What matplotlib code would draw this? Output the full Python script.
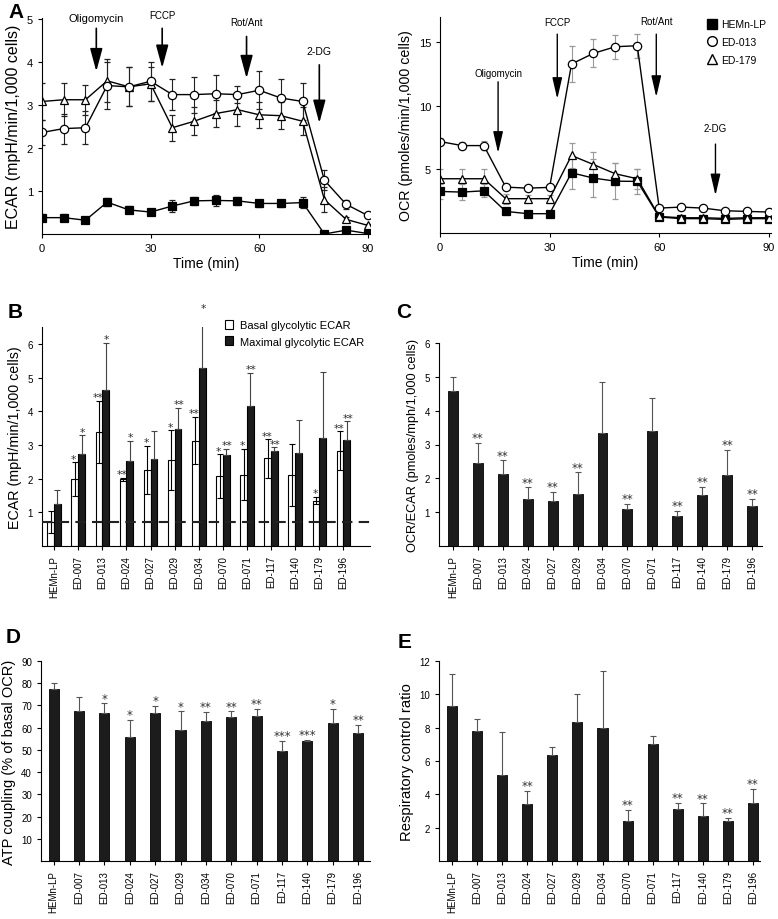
import matplotlib
matplotlib.use('Agg')
import matplotlib.pyplot as plt
import numpy as np

plt.rcParams['font.family'] = ['Liberation Sans', 'DejaVu Sans']

# ---------------- data ----------------
time = [0, 6, 12, 18, 24, 30, 36, 42, 48, 54, 60, 66, 72, 78, 84, 90]

ecar_hemn = [0.38, 0.38, 0.32, 0.74, 0.56, 0.51, 0.65, 0.77, 0.78, 0.77, 0.71, 0.71, 0.73, 0.00, 0.09, 0.01]
ecar_hemn_err = [0.08, 0.08, 0.05, 0.10, 0.08, 0.05, 0.13, 0.10, 0.12, 0.10, 0.08, 0.08, 0.12, 0.08, 0.05, 0.03]
ecar_013 = [2.36, 2.45, 2.47, 3.45, 3.42, 3.55, 3.24, 3.24, 3.26, 3.24, 3.34, 3.16, 3.08, 1.25, 0.69, 0.43]
ecar_013_err = [0.30, 0.35, 0.38, 0.55, 0.45, 0.45, 0.36, 0.42, 0.44, 0.20, 0.44, 0.44, 0.44, 0.23, 0.10, 0.05]
ecar_179 = [3.08, 3.12, 3.12, 3.56, 3.42, 3.49, 2.47, 2.62, 2.80, 2.89, 2.77, 2.75, 2.62, 0.80, 0.34, 0.20]
ecar_179_err = [0.42, 0.38, 0.35, 0.50, 0.45, 0.40, 0.30, 0.33, 0.31, 0.37, 0.30, 0.31, 0.33, 0.30, 0.05, 0.04]

ocr_hemn = [3.27, 3.22, 3.32, 1.70, 1.52, 1.52, 4.74, 4.32, 4.08, 4.06, 1.26, 1.13, 1.13, 1.07, 1.13, 1.13]
ocr_hemn_err = [0.60, 0.60, 0.50, 0.30, 0.10, 0.10, 1.30, 1.50, 1.40, 1.00, 0.20, 0.15, 0.15, 0.15, 0.15, 0.15]
ocr_013 = [7.20, 6.88, 6.88, 3.61, 3.53, 3.59, 13.30, 14.14, 14.66, 14.74, 1.96, 2.04, 1.96, 1.75, 1.70, 1.65]
ocr_013_err = [0.30, 0.30, 0.35, 0.20, 0.15, 0.15, 1.40, 1.10, 0.95, 0.95, 0.20, 0.20, 0.20, 0.15, 0.15, 0.15]
ocr_179 = [4.27, 4.27, 4.27, 2.70, 2.70, 2.70, 6.10, 5.39, 4.66, 4.27, 1.30, 1.20, 1.20, 1.15, 1.20, 1.20]
ocr_179_err = [0.80, 0.80, 0.80, 0.40, 0.30, 0.30, 1.00, 0.97, 0.85, 0.80, 0.20, 0.15, 0.15, 0.15, 0.15, 0.15]

lines = ['HEMn-LP', 'ED-007', 'ED-013', 'ED-024', 'ED-027', 'ED-029', 'ED-034',
         'ED-070', 'ED-071', 'ED-117', 'ED-140', 'ED-179', 'ED-196']

basal = [0.71, 1.98, 3.38, 1.98, 2.25, 2.55, 3.13, 2.07, 2.12, 2.60, 2.12, 1.35, 2.83]
basal_err = [0.32, 0.50, 0.92, 0.05, 0.72, 0.88, 0.70, 0.65, 0.76, 0.57, 0.92, 0.11, 0.57]
basal_stars = ['', '*', '**', '**', '*', '*', '**', '*', '*', '**', '', '*', '**']
maximal = [1.25, 2.74, 4.64, 2.52, 2.59, 3.46, 5.28, 2.70, 4.15, 2.81, 2.77, 3.20, 3.15]
maximal_err = [0.41, 0.54, 1.39, 0.61, 0.83, 0.64, 1.67, 0.18, 0.99, 0.12, 0.96, 1.95, 0.55]
maximal_stars = ['', '*', '*', '*', '', '**', '*', '**', '**', '**', '', '', '**']
baseline_ecar = 0.71

ocr_ecar = [4.57, 2.45, 2.13, 1.40, 1.33, 1.53, 3.33, 1.08, 3.40, 0.88, 1.50, 2.10, 1.19]
ocr_ecar_err = [0.43, 0.60, 0.40, 0.33, 0.27, 0.65, 1.51, 0.17, 0.97, 0.16, 0.25, 0.74, 0.21]
ocr_ecar_stars = ['', '**', '**', '**', '**', '**', '', '**', '', '**', '**', '**', '**']

atp = [77.5, 67.3, 66.7, 55.6, 66.4, 59.0, 63.2, 64.8, 65.2, 49.6, 54.0, 62.2, 57.8]
atp_err = [2.8, 6.5, 4.3, 8.0, 3.4, 8.4, 4.0, 2.5, 3.3, 4.4, 0.4, 6.2, 3.6]
atp_stars = ['', '', '*', '*', '*', '*', '**', '**', '**', '***', '***', '*', '**']

rcr = [9.28, 7.82, 5.15, 3.45, 6.35, 8.35, 7.97, 2.40, 7.00, 3.10, 2.70, 2.40, 3.50]
rcr_err = [1.92, 0.68, 2.57, 0.75, 0.50, 1.70, 3.43, 0.65, 0.50, 0.38, 0.77, 0.18, 0.83]
rcr_stars = ['', '', '', '**', '', '', '', '**', '', '**', '**', '**', '**']

# ---------------- figure ----------------
W, H = 778, 920
fig = plt.figure(figsize=(W / 100, H / 100), dpi=100)
STAR_FONT = ['DejaVu Sans']


def rect(l, t, r, b):
    return [l / W, 1 - b / H, (r - l) / W, (b - t) / H]


def style(ax, ysize=8):
    ax.spines['top'].set_visible(False)
    ax.spines['right'].set_visible(False)
    ax.tick_params(axis='both', direction='out', length=3, width=0.8, labelsize=ysize)


def panel_label(txt, x, y):
    fig.text(x / W, 1 - y / H, txt, fontsize=15, fontweight='bold', ha='left', va='top')


# ---- A left: ECAR time course ----
axA = fig.add_axes(rect(42, 19, 370, 235))
style(axA)
series = [(ecar_hemn, ecar_hemn_err, 's', 'black'),
          (ecar_179, ecar_179_err, '^', 'white'),
          (ecar_013, ecar_013_err, 'o', 'white')]
for vals, err, mk, fc in series:
    axA.errorbar(time, vals, yerr=err, color='black', lw=1.0, marker=mk, ms=6,
                 mfc=fc, mec='black', mew=0.9, ecolor='#222222', elinewidth=0.8,
                 capsize=2, capthick=0.8)
axA.set_xlim(0, 90.6)
axA.set_ylim(0, 5.02)
axA.set_xticks([0, 30, 60, 90])
axA.set_yticks([1, 2, 3, 4, 5])
axA.set_xlabel('Time (min)', fontsize=10, labelpad=2)
axA.set_ylabel('ECAR (mpH/min/1,000 cells)', fontsize=11.5, labelpad=4)

arrowA = [('Oligomycin', 15, 4.78, 3.78, 4.90, 8),
          ('FCCP', 33.2, 4.78, 3.86, 4.98, 7),
          ('Rot/Ant', 56.5, 4.59, 3.62, 4.82, 7),
          ('2-DG', 76.6, 3.93, 2.58, 4.13, 7.5)]
for lab, x, y0, y1, ty, fs in arrowA:
    axA.annotate('', xy=(x, y1), xytext=(x, y0),
                 arrowprops=dict(arrowstyle='-|>,head_length=1.4,head_width=0.38',
                                 color='black', lw=1.2, shrinkA=0, shrinkB=0))
    axA.text(x, ty, lab, fontsize=fs, ha='center', va='bottom')

# ---- A right: OCR time course ----
axO = fig.add_axes(rect(440, 18, 771, 234))
style(axO)
series = [(ocr_hemn, ocr_hemn_err, 's', 'black'),
          (ocr_179, ocr_179_err, '^', 'white'),
          (ocr_013, ocr_013_err, 'o', 'white')]
for vals, err, mk, fc in series:
    axO.errorbar(time, vals, yerr=err, color='black', lw=1.0, marker=mk, ms=6,
                 mfc=fc, mec='black', mew=0.9, ecolor='#999999', elinewidth=0.8,
                 capsize=2, capthick=0.8)
axO.set_xlim(0, 90.6)
axO.set_ylim(0, 17)
axO.set_xticks([0, 30, 60, 90])
axO.set_yticks([5, 10, 15])
axO.set_xlabel('Time (min)', fontsize=10, labelpad=2)
axO.set_ylabel('OCR (pmoles/min/1,000 cells)', fontsize=10.3, labelpad=4)

arrowO = [('Oligomycin', 15.9, 11.9, 6.3, 12.2),
          ('FCCP', 32.1, 15.65, 10.55, 16.2),
          ('Rot/Ant', 59.2, 15.65, 10.7, 16.3),
          ('2-DG', 75.4, 7.0, 2.96, 7.9)]
for lab, x, y0, y1, ty in arrowO:
    axO.annotate('', xy=(x, y1), xytext=(x, y0),
                 arrowprops=dict(arrowstyle='-|>,head_length=1.3,head_width=0.3',
                                 color='black', lw=1.0, shrinkA=0, shrinkB=0))
    axO.text(x, ty, lab, fontsize=7, ha='center', va='bottom')

leg_handles = [plt.Line2D([], [], ls='none', marker='s', ms=7, mfc='black', mec='black'),
               plt.Line2D([], [], ls='none', marker='o', ms=7, mfc='white', mec='black', mew=1),
               plt.Line2D([], [], ls='none', marker='^', ms=7, mfc='white', mec='black', mew=1)]
fig.legend(leg_handles, ['HEMn-LP', 'ED-013', 'ED-179'], loc='upper left',
           bbox_to_anchor=(703 / W, 1 - 15 / H), frameon=False, fontsize=7.5,
           handlelength=0.8, handletextpad=0.4, labelspacing=0.75, borderpad=0)

# ---- B: basal / maximal glycolytic ECAR ----
x = np.arange(len(lines))
axB = fig.add_axes(rect(42, 328, 370, 547))
style(axB, ysize=7)
bw = 0.28
axB.bar(x - bw / 2, basal, bw, color='white', edgecolor='black', lw=0.8,
        yerr=basal_err, error_kw=dict(ecolor='black', elinewidth=0.8, capsize=2, capthick=0.8),
        zorder=2)
axB.bar(x + bw / 2, maximal, bw, color='#1c1c1c', edgecolor='black', lw=0.8,
        yerr=[np.zeros(len(maximal)), maximal_err],
        error_kw=dict(ecolor='#444444', elinewidth=0.8, capsize=2, capthick=0.8),
        zorder=2)
axB.axhline(baseline_ecar, color='#222222', ls=(0, (5, 3)), lw=1.5, zorder=3)
for i in range(len(lines)):
    if basal_stars[i]:
        axB.text(x[i] - bw / 2 - 0.04, basal[i] + basal_err[i] - 0.04, basal_stars[i],
                 ha='center', va='bottom', fontsize=7.8, color='#333333', family=STAR_FONT)
    if maximal_stars[i]:
        axB.text(x[i] + bw / 2 + 0.04, maximal[i] + maximal_err[i] - 0.04, maximal_stars[i],
                 ha='center', va='bottom', fontsize=7.8, color='#333333', family=STAR_FONT)
axB.set_xlim(-0.5, 13.1)
axB.set_ylim(0, 6.5)
axB.set_yticks([1, 2, 3, 4, 5, 6])
axB.set_xticks(x)
axB.set_xticklabels(lines, rotation=90, fontsize=7)
axB.set_ylabel('ECAR (mpH/min/1,000 cells)', fontsize=10.3, labelpad=4)
fig.legend(loc='upper left', bbox_to_anchor=(219 / W, 1 - 315 / H), frameon=False,
           fontsize=8, handlelength=0.8, handleheight=0.9, handletextpad=0.6,
           labelspacing=0.55, borderpad=0,
           handles=[plt.Rectangle((0, 0), 1, 1, fc='white', ec='black', lw=0.8),
                    plt.Rectangle((0, 0), 1, 1, fc='#1c1c1c', ec='black', lw=0.8)],
           labels=['Basal glycolytic ECAR', 'Maximal glycolytic ECAR'])


def single_bars(ax, vals, err, stars, ylim, yticks, ylabel, ylsize, xlim, soff):
    style(ax, ysize=7)
    ax.bar(x, vals, 0.4, color='#1c1c1c', edgecolor='black', lw=0.6,
           yerr=[np.zeros(len(vals)), err],
           error_kw=dict(ecolor='#555555', elinewidth=0.8, capsize=2, capthick=0.8))
    for i in range(len(vals)):
        if stars[i]:
            ax.text(x[i], vals[i] + err[i] + soff, stars[i], ha='center', va='bottom',
                    fontsize=8.5, color='#333333', family=STAR_FONT)
    ax.set_xlim(*xlim)
    ax.set_ylim(*ylim)
    ax.set_yticks(yticks)
    ax.set_xticks(x)
    ax.set_xticklabels(lines, rotation=90, fontsize=7)
    ax.set_ylabel(ylabel, fontsize=ylsize, labelpad=4)


# ---- C ----
axC = fig.add_axes(rect(439, 344, 762, 547))
single_bars(axC, ocr_ecar, ocr_ecar_err, ocr_ecar_stars, (0, 6), [1, 2, 3, 4, 5, 6],
            'OCR/ECAR (pmoles/mph/1,000 cells)', 9.2, (-0.56, 12.4), -0.04)

# ---- D ----
axD = fig.add_axes(rect(41, 662, 370, 862))
single_bars(axD, atp, atp_err, atp_stars, (0, 90), [10, 20, 30, 40, 50, 60, 70, 80, 90],
            'ATP coupling (% of basal OCR)', 10.5, (-0.5, 12.47), -0.6)

# ---- E ----
axE = fig.add_axes(rect(439, 662, 760, 862))
single_bars(axE, rcr, rcr_err, rcr_stars, (0, 12), [2, 4, 6, 8, 10, 12],
            'Respiratory control ratio', 10.6, (-0.52, 12.28), -0.08)

panel_label('A', 8, 3)
panel_label('B', 8, 303)
panel_label('C', 396, 303)
panel_label('D', 6, 628)
panel_label('E', 398, 633)

fig.savefig('out.png', dpi=100)
